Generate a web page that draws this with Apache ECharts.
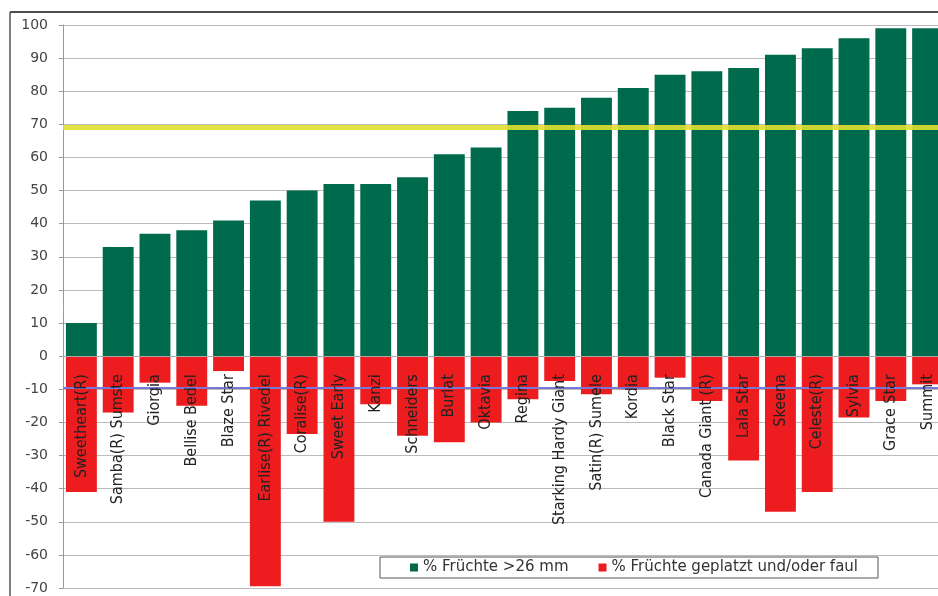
<!DOCTYPE html>
<html>
<head>
<meta charset="utf-8">
<script src="https://cdn.jsdelivr.net/npm/echarts@6/dist/echarts.min.js"></script>
<style>
  html, body { margin: 0; padding: 0; background: #fff; }
  #chart { width: 938px; height: 596px; }
</style>
</head>
<body>
<div id="chart"></div>
<script>
// Sorten
const sorten = ['Sweetheart(R)', 'Samba(R) Sumste', 'Giorgia', 'Bellise Bedel', 'Blaze Star',
  'Earlise(R) Rivedel', 'Coralise(R)', 'Sweet Early', 'Kanzi', 'Schneiders', 'Burlat', 'Oktavia',
  'Regina', 'Starking Hardy Giant', 'Satin(R) Sumele', 'Kordia', 'Black Star', 'Canada Giant (R)',
  'Lala Star', 'Skeena', 'Celeste(R)', 'Sylvia', 'Grace Star', 'Summit'];
// % Früchte >26 mm
const gross = [10, 33, 37, 38, 41, 47, 50, 52, 52, 54, 61, 63, 74, 75, 78, 81, 85, 86, 87, 91, 93, 96, 99, 99];
// % Früchte geplatzt und/oder faul (negativ dargestellt)
const geplatzt = [-41, -17, -8, -15, -4.5, -69.5, -23.5, -50, -14.5, -24, -26, -20, -13, -7.5, -11.5,
  -10, -6.5, -13.5, -31.5, -47, -41, -18.5, -13.5, -8.5];
const grenzeGross = 69;
const grenzeGeplatzt = -9.5;
const yTicks = [-70, 100, 10];

const gridTop = 25, gridHeight = 563;
// Kategorienachse auf die Nulllinie schieben
const zeroOffset = -gridHeight * (0 - yTicks[0]) / (yTicks[1] - yTicks[0]);

const chart = echarts.init(document.getElementById('chart'));
const option = {
  animation: false,
  backgroundColor: '#fff',
  graphic: [
    { type: 'line', shape: { x1: 10, y1: 12, x2: 938, y2: 12 }, style: { stroke: '#111', lineWidth: 1.5 } },
    { type: 'line', shape: { x1: 10, y1: 12, x2: 10, y2: 596 }, style: { stroke: '#555', lineWidth: 1.5 } }
  ],
  legend: {
    left: 380,
    top: 557,
    orient: 'horizontal',
    padding: [3, 20, 3, 30],
    borderColor: '#555',
    borderWidth: 1,
    backgroundColor: '#fff',
    itemWidth: 8,
    itemHeight: 8,
    itemGap: 30,
    icon: 'rect',
    textStyle: { fontFamily: 'DejaVu Sans', fontSize: 15, color: '#333' },
    data: ['% Früchte >26 mm', '% Früchte geplatzt und/oder faul']
  },
  grid: { left: 63, top: gridTop, width: 883, height: gridHeight, outerBoundsMode: 'none', containLabel: false },
  xAxis: {
    type: 'category',
    data: sorten,
    z: 10,
    offset: zeroOffset,
    axisLine: { onZero: false, lineStyle: { color: '#aaa' } },
    axisTick: { show: false },
    axisLabel: {
      rotate: 90,
      interval: 0,
      margin: 18,
      color: '#222',
      fontSize: 16,
      fontFamily: 'Liberation Sans Narrow, DejaVu Sans Condensed, sans-serif'
    }
  },
  yAxis: {
    type: 'value',
    min: yTicks[0],
    max: yTicks[1],
    interval: yTicks[2],
    axisLine: { show: true, lineStyle: { color: '#999' } },
    axisTick: { show: true, length: 4, lineStyle: { color: '#999' } },
    axisLabel: { color: '#444', fontSize: 14, margin: 15, fontFamily: 'DejaVu Sans' },
    splitLine: { lineStyle: { color: '#bbb' } }
  },
  series: [
    {
      name: '% Früchte >26 mm',
      type: 'bar',
      stack: 'a',
      data: gross,
      barWidth: '84%',
      itemStyle: { color: '#006a4c' },
      markLine: {
        silent: true,
        symbol: 'none',
        label: { show: false },
        lineStyle: { color: '#e2e030', width: 5, type: 'solid', opacity: 0.9 },
        data: [{ yAxis: grenzeGross }]
      }
    },
    {
      name: '% Früchte geplatzt und/oder faul',
      type: 'bar',
      stack: 'a',
      data: geplatzt,
      barWidth: '84%',
      itemStyle: { color: '#ec1c1f' },
      markLine: {
        silent: true,
        symbol: 'none',
        label: { show: false },
        lineStyle: { color: '#7878d8', width: 2, type: 'solid' },
        data: [{ yAxis: grenzeGeplatzt }]
      }
    }
  ]
};
chart.setOption(option);
</script>
</body>
</html>
